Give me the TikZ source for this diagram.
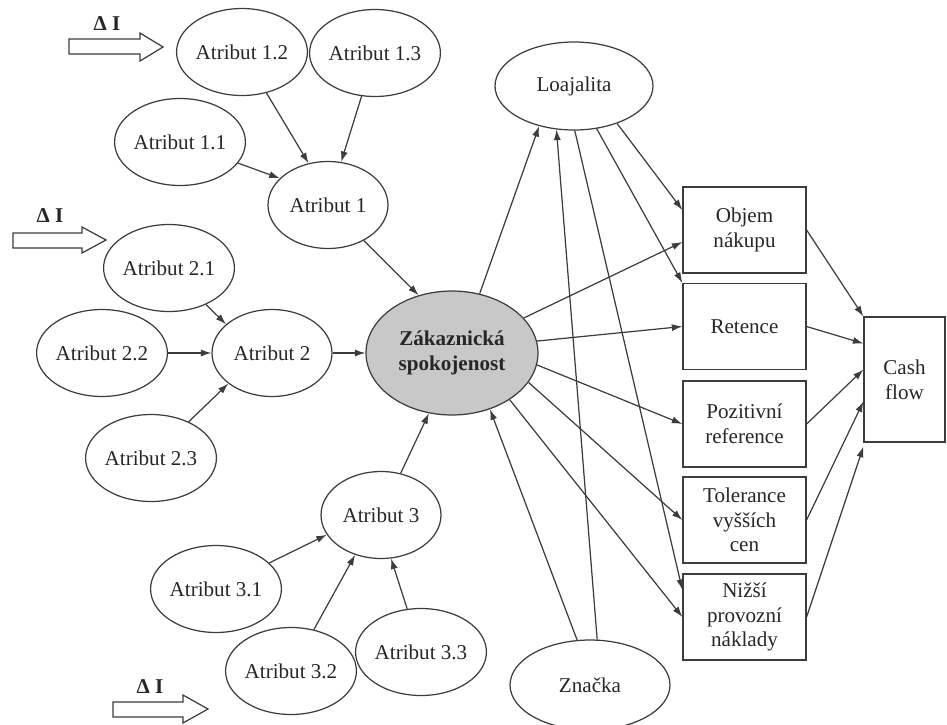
\documentclass[tikz,border=0pt]{standalone}
\usepackage{fontspec}
\setmainfont{Liberation Serif}
\usetikzlibrary{arrows.meta,calc,shapes.geometric}
\definecolor{ln}{RGB}{60,60,60}
\definecolor{zfill}{RGB}{200,200,200}
\begin{document}
\begin{tikzpicture}[x=0.02cm,y=-0.02cm,
  every node/.style={font=\fontsize{12}{14}\selectfont, text=black!85},
  attr/.style={ellipse, draw=ln, line width=0.7pt, minimum width=2.4cm, minimum height=1.74cm, inner sep=0pt},
  bx/.style={rectangle, draw=ln, line width=0.7pt, minimum width=2.46cm, minimum height=1.72cm, inner sep=0pt, align=center},
  arr/.style={draw=ln, line width=0.7pt, -{Latex[length=6pt,width=4pt]}},
  blockarrow/.style={draw=ln, line width=0.7pt, fill=white}]
\useasboundingbox (0,0) rectangle (947,724);

% attribute ellipses
\node[attr] (a12) at (242,52) {Atribut 1.2};
\node[attr] (a13) at (375,53) {Atribut 1.3};
\node[attr] (a11) at (180,142) {Atribut 1.1};
\node[attr] (a1) at (328,205) {Atribut 1};
\node[attr] (a21) at (169,268) {Atribut 2.1};
\node[attr] (a22) at (102,353) {Atribut 2.2};
\node[attr] (a2) at (272,353) {Atribut 2};
\node[attr] (a23) at (151,458) {Atribut 2.3};
\node[attr] (a3) at (381,515) {Atribut 3};
\node[attr] (a31) at (216,589) {Atribut 3.1};
\node[attr] (a32) at (291,671) {Atribut 3.2};
\node[attr] (a33) at (421,652) {Atribut 3.3};

% central
\node[ellipse, draw=ln, line width=0.7pt, fill=zfill, minimum width=3.44cm, minimum height=2.48cm, inner sep=0pt, align=center, font=\fontsize{12}{14}\selectfont\bfseries] (Z) at (452,353) {Zákaznická\\spokojenost};
\node[attr, minimum width=3.16cm, minimum height=1.76cm] (L) at (574,86) {Loajalita};
\node[attr, minimum width=3.2cm, minimum height=1.8cm] (zn) at (590,685) {Značka};

% boxes
\node[bx] (objem) at (744.5,230) {Objem\\nákupu};
\node[bx] (retence) at (744.5,326.5) {Retence};
\node[bx] (poz) at (744.5,424) {Pozitivní\\reference};
\node[bx] (tol) at (744.5,520) {Tolerance\\vyšších\\cen};
\node[bx] (nizsi) at (744.5,617) {Nižší\\provozní\\náklady};
\node[bx, minimum width=1.62cm, minimum height=2.5cm] (cash) at (904.5,379.5) {Cash\\flow};

% delta I arrows
\draw[blockarrow] (69,39) -- (140,39) -- (140,33) -- (163,47) -- (140,61) -- (140,54) -- (69,54) -- cycle;
\node[font=\fontsize{12}{14}\selectfont\bfseries] (d1) at (107,24) {Δ I};
\draw[blockarrow] (13,233) -- (82,233) -- (82,227) -- (106,240) -- (82,253) -- (82,248) -- (13,248) -- cycle;
\node[font=\fontsize{12}{14}\selectfont\bfseries] (d2) at (50,216) {Δ I};
\draw[blockarrow] (113,702) -- (183,702) -- (183,695) -- (208,709) -- (183,723) -- (183,717) -- (113,717) -- cycle;
\node[font=\fontsize{12}{14}\selectfont\bfseries] (d3) at (150,687) {Δ I};

% attribute arrows
\draw[arr] (a12) -- (a1.115);
\draw[arr] (a13) -- (a1.73);
\draw[arr] (a11) -- (a1.151);
\draw[arr] (a1) -- (Z.120);
\draw[arr] (a21) -- (a2.148);
\draw[arr] (a22) -- (a2);
\draw[arr] (a23) -- (a2.215);
\draw[arr] (a2) -- (Z);
\draw[arr] (a31) -- (a3.200);
\draw[arr] (a32) -- (a3.237);
\draw[arr] (a33) -- (a3.283);
\draw[arr] (a3) -- (Z.-111);

% loyalty and brand
\draw[arr] (Z.65) -- (L.229);
\draw[arr] (zn.81) -- (L.248);
\draw[arr] (zn.106) -- (Z.-56);
\draw[arr] (L.-41) -- ($(objem.west)+(0,-20)$);
\draw[arr] (L.-62) -- (retence.north west);
\draw[arr] (L.-89) -- ($(nizsi.west)+(0,-27)$);

% satisfaction to outcomes
\draw[arr] (Z.26) -- ($(objem.west)+(0,12)$);
\draw[arr] (Z.8) -- (retence.west);
\draw[arr] (Z.-8) -- (poz.west);
\draw[arr] (Z.-21) -- (tol.west);
\draw[arr] (Z.-39) -- (nizsi.west);

% outcomes to cash flow
\draw[arr] (objem.east) -- (cash.north west);
\draw[arr] (retence.east) -- ($(cash.west)+(0,-36)$);
\draw[arr] (poz.east) -- ($(cash.west)+(0,-10)$);
\draw[arr] (tol.east) -- ($(cash.west)+(0,22)$);
\draw[arr] (nizsi.east) -- ($(cash.south west)+(0,4)$);
\end{tikzpicture}
\end{document}
